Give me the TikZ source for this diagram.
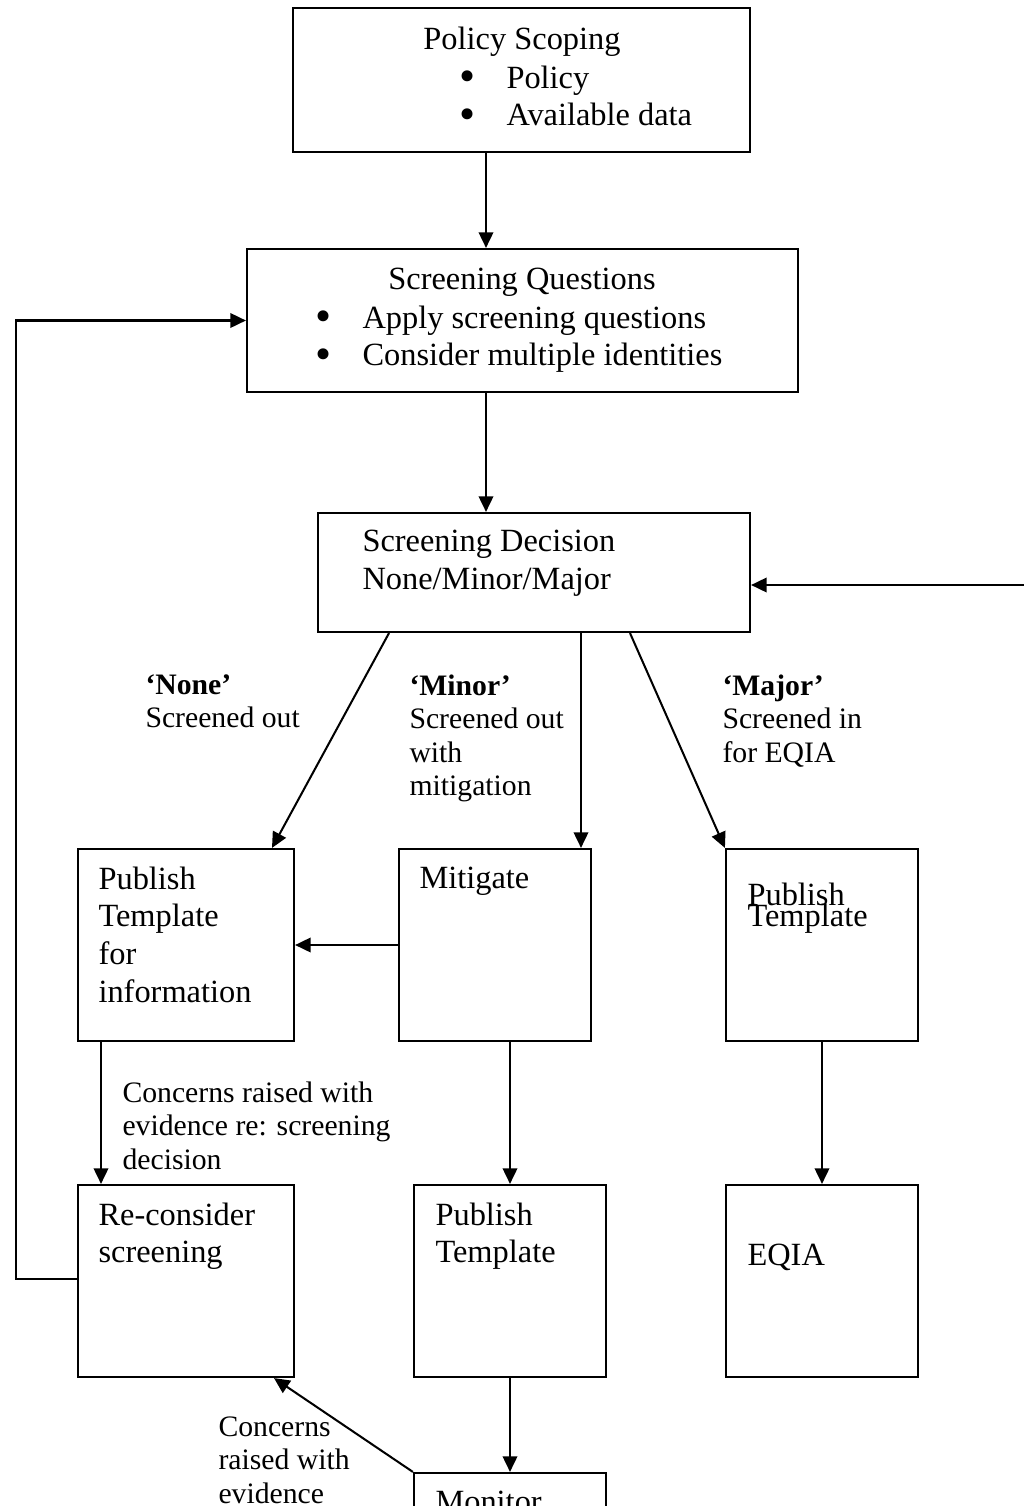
\documentclass[tikz,border=0pt]{standalone}
\usepackage{fontspec}
\setmainfont{Liberation Serif}
\usetikzlibrary{arrows.meta}
\newcommand{\pxu}{0.3704pt}
\newcommand{\itembul}[1]{\makebox[17.4pt][l]{\smash{\raisebox{-1.4pt}{\fontsize{17}{14}\selectfont\textbullet}}}#1}

\begin{document}
\begin{tikzpicture}[
        x=\pxu, y=-\pxu,
        box/.style 2 args={draw, line width=0.8pt, inner sep=0pt, minimum width=#1*\pxu, minimum height=#2*\pxu},
        title/.style={anchor=base, inner sep=0pt, font=\fontsize{12}{14}\selectfont},
        boxtext/.style={anchor=north west, inner sep=0pt, align=left, font=\fontsize{12}{14}\selectfont},
        note/.style={anchor=north west, inner sep=0pt, align=left, font=\fontsize{11}{12.4}\selectfont},
        flow/.style={-{Triangle[length=5.8pt,width=5.4pt]}, line width=0.75pt}
    ]
        \useasboundingbox (0,0) rectangle (1024,1506);
        \clip (0,0) rectangle (1024,1506);

        \node (policy) at (521.5,80) [box={457}{144}] {};
        \node (questions) at (522.5,320.5) [box={551}{143}] {};
        \node (decision) at (534,572.5) [box={432}{119}] {};
        \node (pubinfo) at (186,945) [box={216}{192}] {};
        \node (mitigate) at (495,945) [box={192}{192}] {};
        \node (pubmajor) at (822,945) [box={192}{192}] {};
        \node (reconsider) at (186,1281) [box={216}{192}] {};
        \node (pubmid) at (510,1281) [box={192}{192}] {};
        \node (eqia) at (822,1281) [box={192}{192}] {};
        \node (monitor) at (510,1569) [box={192}{192}] {};

        \node (policy-title) at (522,49) [title] {Policy Scoping};
        \node (policy-items) at (459,65) [boxtext] {\itembul{Policy}\\\itembul{Available data}};
        \node (questions-title) at (522,289) [title] {Screening Questions};
        \node (questions-items) at (315,305) [boxtext] {\itembul{Apply screening questions}\\\itembul{Consider multiple identities}};
        \node (decision-text) at (362,530) [boxtext] {Screening Decision\\None/Minor/Major};
        \node (pubinfo-text) at (98,866) [boxtext] {Publish\\Template\\for\\information};
        \node (mitigate-text) at (419,866) [boxtext] {Mitigate};
        \node (pubmajor-text) at (747,882) [boxtext] {Publish\\[-6pt]Template};
        \node (reconsider-text) at (98,1202) [boxtext] {Re-consider\\screening};
        \node (pubmid-text) at (435,1202) [boxtext] {Publish\\Template};
        \node (eqia-text) at (747,1243) [boxtext] {EQIA};
        \node (monitor-text) at (435,1490) [boxtext] {Monitor};

        \node (none-note) at (145,674) [note] {\textbf{‘None’}\\Screened out};
        \node (minor-note) at (409,674) [note] {\textbf{‘Minor’}\\Screened out\\with\\mitigation};
        \node (major-note) at (722,674) [note] {\textbf{‘Major’}\\Screened in\\for EQIA};
        \node (concern-note) at (122,1081) [note] {Concerns raised with\\evidence re: screening\\decision};
        \node (monitor-note) at (218,1416) [note] {Concerns\\raised with\\evidence};

        \coordinate (spine) at (486,0);
        \coordinate (loopleft) at (16,0);
        \coordinate (rightin) at (1030,585);

        \draw[flow] (policy.south -| spine) -- (questions.north -| spine);
        \draw[flow] (questions.south -| spine) -- (decision.north -| spine);
        \draw[flow] (rightin) -- (decision.east |- rightin);

        \draw[flow] (decision.south -| 389,0) -- (pubinfo.north -| 272,0);
        \draw[flow] (decision.south -| 581,0) -- (mitigate.north -| 581,0);
        \draw[flow] (decision.south -| 630,0) -- (pubmajor.north west);

        \draw[flow] (mitigate.west) -- (pubinfo.east);
        \draw[flow] (pubinfo.south -| 101,0) -- (reconsider.north -| 101,0);
        \draw[flow] (mitigate.south -| pubmid.north) -- (pubmid.north);
        \draw[flow] (pubmajor.south) -- (eqia.north);
        \draw[flow] (pubmid.south) -- (monitor.north);
        \draw[flow] (monitor.north west) -- (reconsider.south -| 274,0);
        \draw[flow] (reconsider.west |- 0,1279) -| (loopleft |- questions.west) -- (questions.west);
    \end{tikzpicture}
\end{document}
